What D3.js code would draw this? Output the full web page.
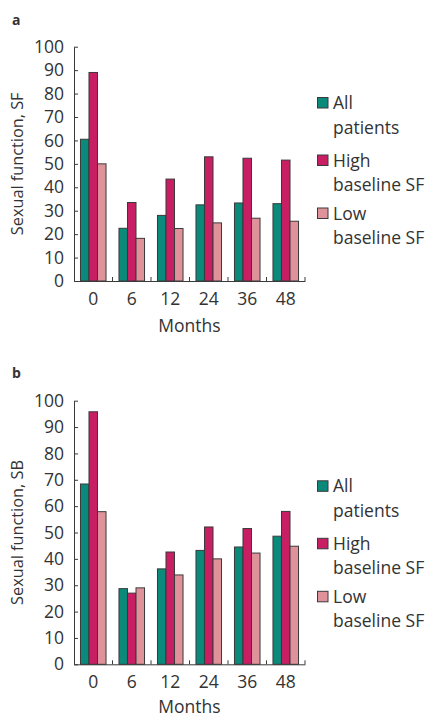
<!DOCTYPE html>
<html>
<head>
<meta charset="utf-8">
<script src="https://cdn.jsdelivr.net/npm/d3@7"></script>
<style>
  body{margin:0;background:#fff;}
  svg text{font-family:"Open Sans",sans-serif;fill:#333;}
</style>
</head>
<body>
<div id="plot"></div>
<script>
var months=['0','6','12','24','36','48'];
var seriesKeys=['all','high','low'];
var legendLines=[['All','patients'],['High','baseline SF'],['Low','baseline SF']];
var yTicks=[0,10,20,30,40,50,60,70,80,90,100];

// panel a: SF
var sfAll=[60.5,22.5,28,32.5,33.3,33];
var sfHigh=[89,33.5,43.5,53,52.4,51.6];
var sfLow=[50,18.2,22.4,24.8,26.8,25.5];
// panel b: SB
var sbAll=[68.4,28.7,36.2,43.2,44.5,48.6];
var sbHigh=[95.8,27,42.6,52.1,51.5,58];
var sbLow=[57.9,29,33.9,40,42.2,44.8];

var color_all='#0b8a7b';
var color_high='#c81e63';
var color_low='#e0929a';
var stroke_color='#3a3a3a';
var fontSize='17.5px';

var width=428, height=718;
var svg=d3.select('#plot').append('svg')
  .attr('width',width)
  .attr('height',height);

function drawPanel(letter,yLabel,all,high,low,yTop,yZero,letterY,monthsGap){
  var g=svg.append('g');
  var x0=d3.scaleBand().domain(months).range([74,305]).padding(0);
  var x1=d3.scaleBand().domain(seriesKeys).range([0,x0.bandwidth()]).paddingInner(0).paddingOuter(0.76);
  var y=d3.scaleLinear().domain([0,100]).range([yZero,yTop]);
  var colors={all:color_all,high:color_high,low:color_low};

  var rows=months.map(function(m,i){
    return {month:m,all:all[i],high:high[i],low:low[i]};
  });

  var groups=g.selectAll('.grp')
    .data(rows)
    .enter()
    .append('g')
    .attr('transform',function(d){return 'translate('+x0(d.month)+',0)';});

  groups.selectAll('rect')
    .data(function(d){return seriesKeys.map(function(k){return {key:k,value:d[k]};});})
    .enter()
    .append('rect')
    .attr('x',function(d){return x1(d.key);})
    .attr('y',function(d){return y(d.value);})
    .attr('width',x1.bandwidth())
    .attr('height',function(d){return yZero-y(d.value);})
    .attr('fill',function(d){return colors[d.key];})
    .attr('stroke',stroke_color)
    .attr('stroke-width',1);

  // y axis
  var yAxis=g.append('g')
    .attr('transform','translate(74,0)')
    .call(d3.axisLeft(y).tickValues(yTicks).tickSizeInner(-4).tickSizeOuter(0).tickPadding(10));
  yAxis.selectAll('path,line').attr('stroke',stroke_color);
  yAxis.selectAll('text').style('font-size',fontSize).attr('fill','#333');

  // x axis
  var xAxis=g.append('g')
    .attr('transform','translate(0,'+yZero+')')
    .call(d3.axisBottom(x0).tickSize(0).tickPadding(11.5));
  xAxis.select('.domain').attr('stroke',stroke_color);
  xAxis.selectAll('text').style('font-size',fontSize).attr('fill','#333');

  g.selectAll('.gtick')
    .data(months)
    .enter()
    .append('line')
    .attr('x1',function(d){return x0(d)+x0.step();})
    .attr('x2',function(d){return x0(d)+x0.step();})
    .attr('y1',yZero)
    .attr('y2',yZero-4)
    .attr('stroke',stroke_color);

  g.append('text')
    .attr('x',(74+305)/2)
    .attr('y',yZero+monthsGap)
    .attr('text-anchor','middle')
    .style('font-size',fontSize)
    .text('Months');

  g.append('text')
    .attr('transform','rotate(-90)')
    .attr('x',-(yTop+yZero)/2)
    .attr('y',23)
    .attr('text-anchor','middle')
    .style('font-size','16.3px')
    .text(yLabel);

  g.append('text')
    .attr('x',12)
    .attr('y',letterY)
    .style('font-size','14px')
    .style('font-weight','bold')
    .text(letter);

  // legend
  var legendOffsets=[-172,-114.5,-61.5];
  var leg=g.selectAll('.leg')
    .data(seriesKeys)
    .enter()
    .append('g')
    .attr('transform',function(d,i){return 'translate(0,'+(yZero+legendOffsets[i])+')';});
  leg.append('rect')
    .attr('x',317.5)
    .attr('y',-11.5)
    .attr('width',10.5)
    .attr('height',10.5)
    .attr('fill',function(d){return colors[d];})
    .attr('stroke',stroke_color);
  leg.each(function(d,i){
    var t=d3.select(this).append('text')
      .attr('x',333)
      .attr('y',0)
      .style('font-size',fontSize);
    legendLines[i].forEach(function(line,j){
      t.append('tspan').attr('x',333).attr('y',j*24.5).text(line);
    });
  });
}

drawPanel('a','Sexual function, SF',sfAll,sfHigh,sfLow,46.7,281,25,51);
drawPanel('b','Sexual function, SB',sbAll,sbHigh,sbLow,400.7,664.3,378,49);
</script>
</body>
</html>
